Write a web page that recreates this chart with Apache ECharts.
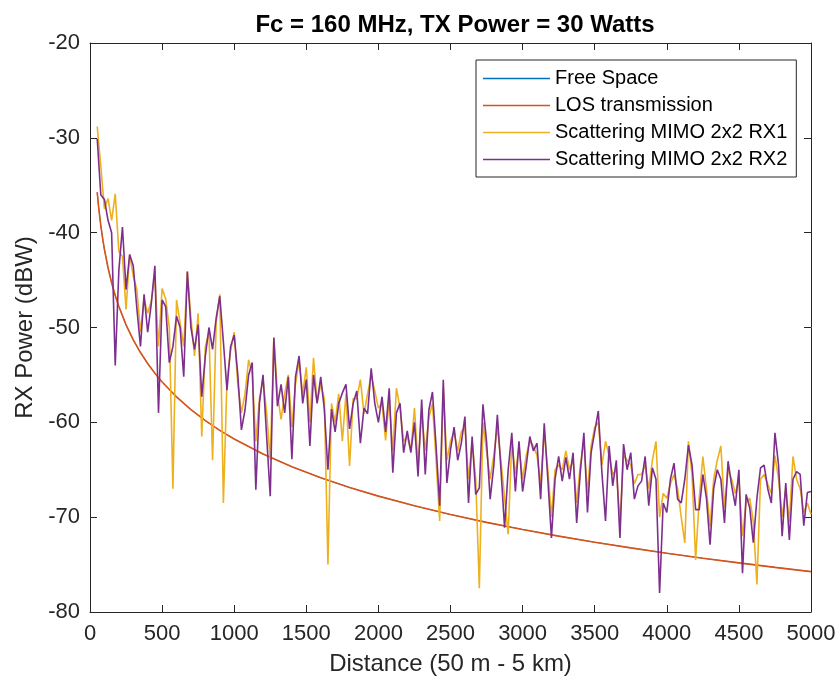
<!DOCTYPE html>
<html>
<head>
<meta charset="utf-8">
<script src="https://cdn.jsdelivr.net/npm/echarts@6/dist/echarts.min.js"></script>
<style>
html,body{margin:0;padding:0;background:#fff;}
#chart{width:840px;height:685px;}
</style>
</head>
<body>
<div id="chart"></div>
<script>
// Distance grid for scattering channels (m)
const distances = [
  50,75,100,125,150,175,200,225,250,275,
  300,325,350,375,400,425,450,475,500,525,
  550,575,600,625,650,675,700,725,750,775,
  800,825,850,875,900,925,950,975,1000,1025,
  1050,1075,1100,1125,1150,1175,1200,1225,1250,1275,
  1300,1325,1350,1375,1400,1425,1450,1475,1500,1525,
  1550,1575,1600,1625,1650,1675,1700,1725,1750,1775,
  1800,1825,1850,1875,1900,1925,1950,1975,2000,2025,
  2050,2075,2100,2125,2150,2175,2200,2225,2250,2275,
  2300,2325,2350,2375,2400,2425,2450,2475,2500,2525,
  2550,2575,2600,2625,2650,2675,2700,2725,2750,2775,
  2800,2825,2850,2875,2900,2925,2950,2975,3000,3025,
  3050,3075,3100,3125,3150,3175,3200,3225,3250,3275,
  3300,3325,3350,3375,3400,3425,3450,3475,3500,3525,
  3550,3575,3600,3625,3650,3675,3700,3725,3750,3775,
  3800,3825,3850,3875,3900,3925,3950,3975,4000,4025,
  4050,4075,4100,4125,4150,4175,4200,4225,4250,4275,
  4300,4325,4350,4375,4400,4425,4450,4475,4500,4525,
  4550,4575,4600,4625,4650,4675,4700,4725,4750,4775,
  4800,4825,4850,4875,4900,4925,4950,4975,5000
];

// Scattering MIMO 2x2 RX1 (dBW)
const rx1Power = [
  -28.8,-33.0,-37.5,-36.4,-38.7,-35.9,-42.0,-42.5,-48.1,-42.3,
  -44.6,-46.0,-50.5,-47.0,-48.5,-47.2,-44.5,-52.0,-45.9,-47.0,
  -50.0,-67.0,-47.1,-49.5,-52.0,-44.1,-49.0,-53.0,-48.5,-61.5,
  -52.0,-50.5,-64.0,-49.5,-46.5,-68.5,-55.5,-52.5,-50.5,-56.0,
  -59.0,-57.0,-53.4,-55.0,-62.0,-57.5,-55.5,-59.0,-64.0,-51.0,
  -57.0,-59.7,-57.0,-55.0,-60.5,-56.0,-53.5,-57.0,-54.2,-60.0,
  -53.2,-57.9,-56.0,-57.5,-75.0,-58.0,-60.0,-57.0,-62.0,-57.0,
  -64.6,-57.5,-57.5,-55.5,-59.1,-57.0,-55.0,-56.7,-58.5,-58.0,
  -61.9,-57.5,-63.0,-56.4,-58.5,-62.0,-61.5,-63.0,-58.5,-64.5,
  -59.0,-63.0,-59.5,-58.0,-64.0,-70.4,-56.5,-64.0,-62.0,-61.0,
  -63.0,-61.0,-60.5,-66.0,-62.0,-66.0,-77.5,-60.0,-63.0,-66.0,
  -63.5,-60.5,-64.0,-68.0,-71.8,-62.0,-65.5,-62.5,-66.0,-63.5,
  -62.0,-62.5,-63.5,-66.5,-61.0,-65.0,-70.0,-65.0,-64.5,-65.0,
  -63.0,-65.0,-64.0,-68.5,-64.5,-62.0,-67.5,-62.5,-60.5,-60.0,
  -64.5,-62.0,-63.5,-65.5,-65.0,-70.5,-63.5,-64.0,-64.5,-66.5,
  -65.5,-65.5,-64.5,-67.0,-64.0,-62.0,-70.0,-67.5,-68.0,-66.5,
  -65.5,-67.0,-70.0,-72.7,-62.0,-65.5,-74.5,-68.0,-63.6,-67.0,
  -71.0,-66.0,-64.0,-62.5,-69.0,-65.0,-66.0,-67.5,-66.0,-72.0,
  -68.5,-68.0,-70.5,-77.1,-66.0,-65.5,-66.5,-67.5,-63.5,-66.0,
  -70.0,-67.0,-70.5,-63.6,-66.0,-67.0,-69.5,-68.5,-69.7
];

// Scattering MIMO 2x2 RX2 (dBW)
const rx2Power = [
  -30.1,-36.0,-36.5,-38.7,-40.0,-54.0,-44.0,-39.4,-46.0,-42.3,
  -43.5,-48.0,-52.0,-46.5,-50.5,-47.5,-43.5,-59.0,-47.1,-47.8,
  -53.7,-52.0,-48.8,-50.0,-55.2,-44.1,-50.0,-52.3,-49.7,-57.3,
  -53.0,-50.0,-52.3,-49.0,-46.7,-51.5,-56.6,-52.0,-50.8,-55.0,
  -60.8,-58.7,-55.0,-53.7,-67.1,-58.0,-55.0,-61.5,-67.8,-51.1,
  -58.3,-56.0,-59.0,-55.2,-63.9,-55.2,-53.0,-58.0,-55.5,-62.5,
  -55.0,-58.0,-55.2,-58.6,-65.0,-58.6,-61.0,-58.0,-56.9,-56.0,
  -60.7,-58.0,-56.7,-62.2,-58.5,-59.1,-54.3,-58.0,-60.0,-57.3,
  -61.0,-56.4,-65.3,-59.0,-58.0,-63.2,-60.9,-63.2,-60.0,-65.7,
  -57.6,-65.5,-58.7,-56.8,-62.5,-68.8,-55.5,-66.4,-62.9,-60.5,
  -64.0,-62.2,-59.4,-68.5,-61.5,-67.6,-66.9,-58.1,-62.0,-68.1,
  -64.6,-59.2,-65.0,-71.1,-65.0,-61.1,-67.3,-62.0,-67.3,-64.6,
  -61.5,-63.0,-62.2,-68.1,-60.1,-66.0,-72.2,-66.0,-63.6,-66.2,
  -63.7,-66.0,-63.2,-70.6,-65.3,-61.1,-69.5,-63.2,-61.0,-58.8,
  -65.3,-70.4,-62.5,-66.7,-64.0,-72.2,-62.3,-65.0,-63.2,-68.1,
  -66.7,-66.2,-63.6,-68.8,-64.8,-66.0,-78.0,-68.5,-69.5,-66.0,
  -64.3,-68.1,-68.5,-66.0,-62.4,-64.5,-69.2,-69.2,-65.5,-68.0,
  -72.9,-67.0,-65.0,-66.0,-70.6,-64.1,-66.7,-68.8,-65.0,-75.9,
  -67.6,-69.0,-72.7,-68.0,-64.8,-64.5,-67.0,-68.5,-61.1,-64.5,
  -72.0,-66.4,-72.4,-66.0,-65.2,-65.5,-70.9,-67.4,-67.3
];

// Free space / LOS curve, read at selected distances (m, dBW)
const losDistances = [50,60,75,90,100,125,150,175,200,250,300,350,400,450,500,600,700,800,900,1000,1200,1400,1600,1800,2000,2250,2500,2750,3000,3250,3500,3750,4000,4250,4500,4750,5000];
const losPower = [-35.74,-37.32,-39.26,-40.85,-41.76,-43.70,-45.28,-46.62,-47.78,-49.72,-51.30,-52.64,-53.80,-54.82,-55.74,-57.32,-58.66,-59.82,-60.85,-61.76,-63.34,-64.68,-65.84,-66.87,-67.78,-68.80,-69.72,-70.55,-71.30,-72.00,-72.64,-73.24,-73.80,-74.33,-74.82,-75.29,-75.74];
const freeSpacePower = losPower.slice();

const seriesNames = ['Free Space','LOS transmission','Scattering MIMO 2x2 RX1','Scattering MIMO 2x2 RX2'];
const xTicks = {min:0, max:5000, interval:500};
const yTicks = {min:-80, max:-20, interval:10};

const colors = ['#0072BD','#D95319','#EDB120','#7E2F8E'];
const axisColor = '#262626';
const font = 'Liberation Sans, Arial, Helvetica, sans-serif';

function pairs(xs, ys){ return xs.map((x,i)=>[x, ys[i]]); }
function plain(v){ return String(v); }

const chart = echarts.init(document.getElementById('chart'), null, {renderer:'canvas'});

const axisCommon = {
  axisLine:{show:true, onZero:false, lineStyle:{color:axisColor, width:1}},
  axisTick:{show:true, inside:true, length:7, lineStyle:{color:axisColor, width:1}},
  splitLine:{show:false}
};

const option = {
  backgroundColor:'#ffffff',
  animation:false,
  color:colors,
  title:{
    text:'Fc = 160 MHz, TX Power = 30 Watts',
    left:450, top:8, textAlign:'center',
    textStyle:{fontFamily:font, fontSize:24, fontWeight:'bold', color:'#000'}
  },
  grid:{left:90, right:29, top:43, bottom:73, containLabel:false, outerBoundsMode:'none'},
  legend:{
    orient:'vertical', left:476, top:60,
    data:seriesNames.map(n=>({name:n, icon:'rect'})),
    itemWidth:67, itemHeight:1.6, itemGap:6,
    padding:[8,9,7,7],
    borderColor:axisColor, borderWidth:1, backgroundColor:'#fff',
    textStyle:{fontFamily:font, fontSize:20, color:'#000', lineHeight:21}
  },
  xAxis:[
    Object.assign({type:'value', position:'bottom', min:xTicks.min, max:xTicks.max, interval:xTicks.interval,
      name:'Distance (50 m - 5 km)', nameLocation:'middle', nameGap:40,
      nameTextStyle:{fontFamily:font, fontSize:24, color:axisColor},
      axisLabel:{fontFamily:font, fontSize:22, color:axisColor, margin:11, formatter:plain}}, axisCommon),
    Object.assign({type:'value', position:'top', min:xTicks.min, max:xTicks.max, interval:xTicks.interval,
      axisLabel:{show:false}}, axisCommon)
  ],
  yAxis:[
    Object.assign({type:'value', position:'left', min:yTicks.min, max:yTicks.max, interval:yTicks.interval,
      name:'RX Power (dBW)', nameLocation:'middle', nameGap:52,
      nameTextStyle:{fontFamily:font, fontSize:24, color:axisColor},
      axisLabel:{fontFamily:font, fontSize:22, color:axisColor, margin:10, formatter:plain}}, axisCommon),
    Object.assign({type:'value', position:'right', min:yTicks.min, max:yTicks.max, interval:yTicks.interval,
      axisLabel:{show:false}}, axisCommon)
  ],
  series:[
    {name:seriesNames[0], type:'line', data:pairs(losDistances, freeSpacePower), showSymbol:false, symbol:'none',
      lineStyle:{width:0.8, color:colors[0]}, z:2},
    {name:seriesNames[1], type:'line', data:pairs(losDistances, losPower), showSymbol:false, symbol:'none',
      lineStyle:{width:1.6, color:colors[1]}, z:3},
    {name:seriesNames[2], type:'line', data:pairs(distances, rx1Power), showSymbol:false, symbol:'none',
      lineStyle:{width:1.6, color:colors[2]}, z:4},
    {name:seriesNames[3], type:'line', data:pairs(distances, rx2Power), showSymbol:false, symbol:'none',
      lineStyle:{width:1.6, color:colors[3]}, z:5}
  ]
};
chart.setOption(option);
</script>
</body>
</html>
